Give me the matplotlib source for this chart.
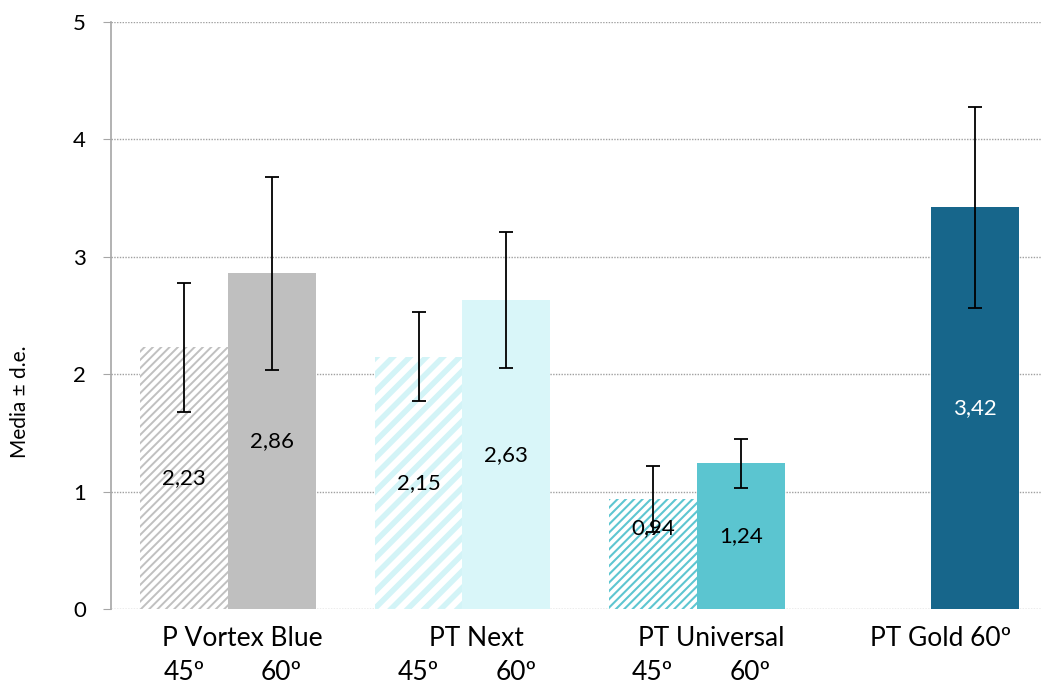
import numpy as np
import matplotlib
matplotlib.use("Agg")
import matplotlib.pyplot as plt

plt.rcParams['font.family'] = ['Lato', 'DejaVu Sans']

# datos
grupos = ["P Vortex Blue", "PT Next", "PT Universal", "PT Gold 60º"]
media_45 = [2.23, 2.15, 0.94, np.nan]
de_45 = [0.55, 0.38, 0.28, np.nan]
media_60 = [2.86, 2.63, 1.24, 3.42]
de_60 = [0.82, 0.58, 0.21, 0.86]
etiquetas_ang = ["45º", "60º"]

col_45 = ["#c0c0c0", "#d3f4f7", "#5ec6d1", None]
col_60 = ["#bfbfbf", "#d9f6f9", "#5bc5d0", "#17668b"]
hatch_45 = ["////", "//", "////", None]
hatch_lw = [1.4, 4.0, 1.5, 1.0]
col_txt_60 = ["black", "black", "black", "white"]

fig = plt.figure(figsize=(10.42, 6.86), dpi=100)
ax = fig.add_axes([111/1042, 1 - 609/686, 1 - 111/1042, (609 - 22)/686])

x = np.arange(len(grupos))
w = 0.375

for i in range(len(grupos)):
    if not np.isnan(media_45[i]):
        plt.rcParams['hatch.linewidth'] = hatch_lw[i]
        ax.bar(x[i] - w/2, media_45[i], w, color="white", edgecolor=col_45[i],
               hatch=hatch_45[i], linewidth=0, zorder=2)
        ax.errorbar(x[i] - w/2, media_45[i], yerr=de_45[i], fmt="none", ecolor="black",
                    elinewidth=1.3, capsize=5, capthick=1.3, zorder=4)
        yt = media_45[i] / 2 + (0.22 if media_45[i] < 1 else 0)
        ax.text(x[i] - w/2, yt, f"{media_45[i]:.2f}".replace(".", ","), ha="center",
                va="center", fontsize=16, color="black", zorder=5)
    ax.bar(x[i] + w/2, media_60[i], w, color=col_60[i], linewidth=0, zorder=2)
    ax.errorbar(x[i] + w/2, media_60[i], yerr=de_60[i], fmt="none", ecolor="black",
                elinewidth=1.3, capsize=5, capthick=1.3, zorder=4)
    ax.text(x[i] + w/2, media_60[i] / 2, f"{media_60[i]:.2f}".replace(".", ","), ha="center",
            va="center", fontsize=16, color=col_txt_60[i], zorder=5)

ax.set_xlim(-0.5, -0.5 + (1042 - 111) / 234.3)
ax.set_ylim(0, 5)
ax.set_yticks(range(6))
ax.yaxis.grid(True, linestyle=(0, (1, 1)), color="#a0a0a0", linewidth=1)
ax.set_axisbelow(True)
ax.tick_params(axis="y", labelsize=16, length=6, color="#a6a6a6", pad=12)
ax.set_xticks([])
for s in ["top", "right", "bottom"]:
    ax.spines[s].set_visible(False)
ax.spines["left"].set_color("#a6a6a6")
ax.spines["left"].set_linewidth(1.2)

# etiquetas del eje x en dos filas
trans = ax.get_xaxis_transform()
for i, g in enumerate(grupos):
    xo = x[i] + (0.06 if i < 3 else 0.04)
    ax.text(xo, -29/587, g, transform=trans, ha="center", va="center", fontsize=19)
    if not np.isnan(media_45[i]):
        ax.text(x[i] - w/2, -64/587, etiquetas_ang[0], transform=trans, ha="center",
                va="center", fontsize=19)
        ax.text(x[i] + w/2 + 0.04, -64/587, etiquetas_ang[1], transform=trans, ha="center",
                va="center", fontsize=19)

fig.text(20/1042, 1 - 402/686, "Media ± d.e.", rotation=90, ha="center", va="center",
         fontsize=15)

fig.savefig("out.png", dpi=100)
